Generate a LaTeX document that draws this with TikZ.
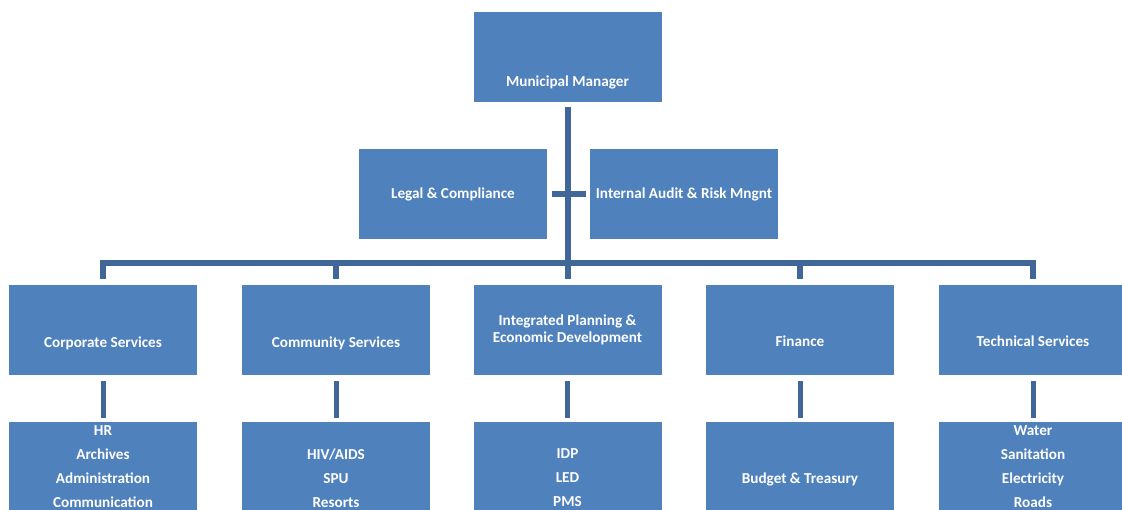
\documentclass[tikz,border=0pt]{standalone}
\usepackage{fontspec}
\setmainfont{Carlito}
\definecolor{boxblue}{HTML}{4F81BD}
\definecolor{linkblue}{HTML}{41679A}
\begin{document}
\begin{tikzpicture}[x=0.75pt,y=-0.75pt,
    unit/.style={fill=boxblue,minimum width=141pt,minimum height=67.5pt,inner sep=0pt},
    lbl/.style={text=white,align=center,font=\fontsize{11.4}{18}\selectfont\bfseries},
    lbltight/.style={lbl,font=\fontsize{11.4}{12.75}\selectfont\bfseries},
    link/.style={draw=linkblue,line width=4.5pt}]
  \useasboundingbox (0,0) rectangle (1122,510);
  % top
  \node[unit,label={[lbl,yshift=-18.75pt]center:Municipal Manager}] (mm) at (567.5,57) {};
  \node[unit,label={[lbl]center:Legal \& Compliance}] (legal) at (453,194) {};
  \node[unit,label={[lbl]center:Internal Audit \& Risk Mngnt}] (audit) at (684,194) {};
  % departments
  \node[unit,label={[lbl,yshift=-9.75pt]center:Corporate Services}] (corp) at (103,330) {};
  \node[unit,label={[lbl,yshift=-9.75pt]center:Community Services}] (comm) at (336,330) {};
  \node[unit,label={[lbltight]center:Integrated Planning \&\\Economic Development}] (ipd) at (567.5,330) {};
  \node[unit,label={[lbl,yshift=-8.25pt]center:Finance}] (fin) at (800,330) {};
  \node[unit,label={[lbl,yshift=-8.25pt]center:Technical Services}] (tech) at (1033,330) {};
  % sections
  \node[unit,label={[lbl]center:HR\\Archives\\Administration\\Communication}] (corpsub) at (103,467) {};
  \node[unit,label={[lbl,yshift=-8.25pt]center:HIV/AIDS\\SPU\\Resorts}] (commsub) at (336,467) {};
  \node[unit,label={[lbl,yshift=-8.25pt]center:IDP\\LED\\PMS}] (ipdsub) at (567.5,467) {};
  \node[unit,label={[lbl,yshift=-9pt]center:Budget \& Treasury}] (finsub) at (800,467) {};
  \node[unit,label={[lbl]center:Water\\Sanitation\\Electricity\\Roads}] (techsub) at (1033,467) {};
  \coordinate (bus) at (567.5,263);
  % connectors
  \draw[link,shorten <=3.75pt] (mm.south) -- (bus);
  \draw[link,shorten <=3.75pt,shorten >=3pt] (legal.east) -- (audit.west);
  \foreach \d in {corp,comm,ipd,fin,tech}
  {
    \draw[link,shorten >=4.5pt] (bus) -| (\d.north);
    \draw[link,line width=3.75pt,shorten <=4.5pt,shorten >=3pt] (\d.south) -- (\d sub.north);
  }
\end{tikzpicture}
\end{document}
